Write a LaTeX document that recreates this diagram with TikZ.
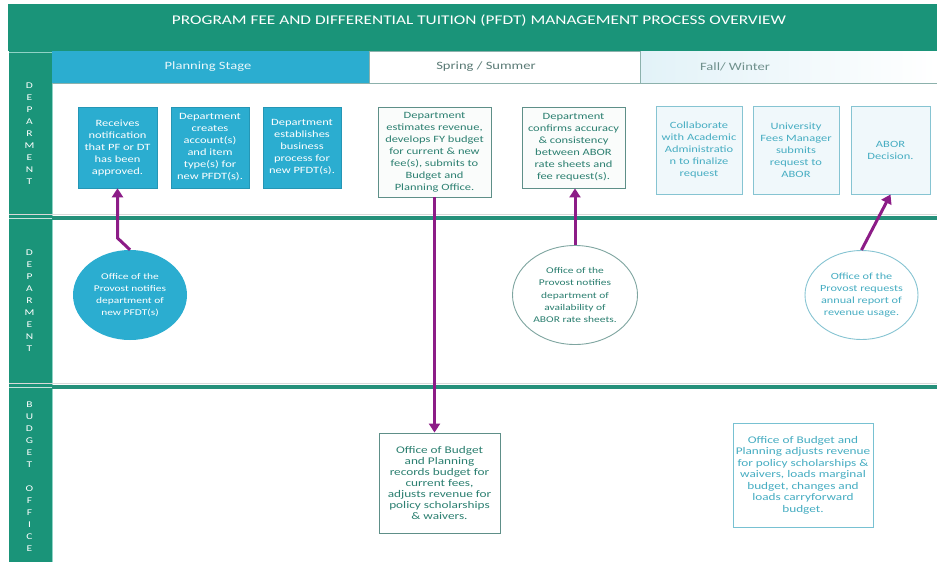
\documentclass[tikz,border=0pt]{standalone}
\usepackage{fontspec}
\setmainfont[FakeStretch=1.3]{Carlito}
\usetikzlibrary{shapes.geometric,arrows.meta}
\definecolor{tealA}{HTML}{1A9479}
\definecolor{tealLine}{HTML}{25907A}
\definecolor{tealLight}{HTML}{8FD3C6}
\definecolor{cyanA}{HTML}{2BADD0}
\definecolor{cyanB}{HTML}{2596B5}
\definecolor{sprText}{HTML}{2B7F70}
\definecolor{sprDraw}{HTML}{5E8F88}
\definecolor{sprFill}{HTML}{FAFCFB}
\definecolor{fallText}{HTML}{46ADC2}
\definecolor{fallDraw}{HTML}{86C4D2}
\definecolor{fallFill}{HTML}{F0F8FB}
\definecolor{fallHdr}{HTML}{E2F2F8}
\definecolor{hdrLine}{HTML}{8CB1AC}
\definecolor{hdrText}{HTML}{5A7A75}
\definecolor{hdrText2}{HTML}{6F908C}
\definecolor{purp}{HTML}{8C1C87}
\tikzset{
  txt/.style={align=center, inner sep=0pt, font=\fontsize{9.6}{12}\selectfont},
  planbox/.style={txt, fill=cyanA, draw=cyanB, line width=0.6pt, text=white},
  sprbox/.style={txt, fill=sprFill, draw=sprDraw, line width=0.9pt, text=sprText},
  fallbox/.style={txt, fill=fallFill, draw=fallDraw, line width=0.9pt, text=fallText},
  oval/.style={ellipse, inner sep=0pt},
  arr/.style={draw=purp, line width=3pt, -{Triangle[width=11pt,length=9pt]}},
  lanelbl/.style={align=center, text=white, inner sep=0pt, font=\fontsize{8.8}{12}\selectfont},
  hdr/.style={inner sep=0pt, font=\fontsize{11.2}{13}\selectfont},
}
\begin{document}
\begin{tikzpicture}[x=1pt,y=-1pt]
\useasboundingbox (0,0) rectangle (937,562);
\fill[white] (0,0) rectangle (937,562);
% title bar
\fill[tealA] (8,4) rectangle (937,51);
\node[text=white, inner sep=0pt, font=\fontsize{13.3}{15}\selectfont] (title) at (479,21) {PROGRAM FEE AND DIFFERENTIAL TUITION (PFDT) MANAGEMENT PROCESS OVERVIEW};
% left column
\fill[tealA] (9,51) rectangle (52,562);
\draw[tealLight, line width=0.8pt] (9,52) -- (52,52) -- (52,562);
% header row
\fill[cyanA] (52,51) rectangle (369,83);
\draw[hdrLine, fill=white, line width=0.7pt] (369,51) rectangle (640,83);
\shade[left color=fallHdr, right color=white] (640,51) rectangle (937,83);
\draw[hdrLine, line width=0.7pt] (640,51) -- (640,83);
\draw[hdrLine, line width=0.9pt] (52,83) -- (937,83);
\node[hdr, text=white!90!cyanA] (h1) at (208,67) {Planning Stage};
\node[hdr, text=hdrText] (h2) at (486,67) {Spring / Summer};
\node[hdr, text=hdrText2] (h3) at (735,67) {Fall/ Winter};
% lane separators
\draw[black!15, line width=0.8pt] (9,214.5) -- (937,214.5);
\draw[tealLine, line width=3.5pt] (52,218) -- (937,218);
\draw[black!15, line width=0.8pt] (9,383.5) -- (937,383.5);
\draw[tealLine, line width=3.5pt] (52,387) -- (937,387);
\draw[white!75!tealA, line width=1.2pt] (9,218.5) -- (52,218.5);
\draw[white!75!tealA, line width=1.2pt] (9,387.5) -- (52,387.5);
% lane labels
\node[lanelbl] (l1) at (29.5,134) {D\\E\\P\\A\\R\\M\\E\\N\\T};
\node[lanelbl] (l2) at (29.5,301) {D\\E\\P\\A\\R\\M\\E\\N\\T};
\node[lanelbl] (l3) at (29.5,477) {B\\U\\D\\G\\E\\T\\~\\O\\F\\F\\I\\C\\E};
% lane 1 boxes
\node[planbox, minimum width=79pt, minimum height=81pt] (recv) at (117.5,147.5) {Receives\\notification\\that PF or DT\\has been\\approved.};
\node[planbox, minimum width=78pt, minimum height=81pt] (create) at (210,147.5) {Department\\creates\\account(s)\\and item\\type(s) for\\new PFDT(s).};
\node[planbox, minimum width=78pt, minimum height=81pt] (estab) at (302,147.5) {Department\\establishes\\business\\process for\\new PFDT(s).};
\node[sprbox, minimum width=113pt, minimum height=90pt] (estim) at (434.5,152) {Department\\estimates revenue,\\develops FY budget\\for current \& new\\fee(s), submits to\\Budget and\\Planning Office.};
\node[sprbox, minimum width=103pt, minimum height=81pt] (confirm) at (573.5,147.5) {Department\\confirms accuracy\\\& consistency\\between ABOR\\rate sheets and\\fee request(s).};
\node[fallbox, minimum width=86pt, minimum height=88pt] (collab) at (699,150) {Collaborate\\with Academic\\Administratio\\n to finalize\\request};
\node[fallbox, minimum width=86pt, minimum height=88pt] (submit) at (796,150) {University\\Fees Manager\\submits\\request to\\ABOR};
\node[fallbox, minimum width=79pt, minimum height=88pt] (abor) at (890.5,150) {ABOR\\Decision.};
% lane 2 ovals
\node[oval, fill=cyanA, minimum width=114pt, minimum height=90pt] (c1) at (130,295) {};
\node[txt, text=white, font=\fontsize{8.8}{12}\selectfont] (c1t) at (c1.center) {Office of the\\Provost notifies\\department of\\new PFDT(s)};
\node[oval, fill=white, draw=sprDraw!80!white, line width=0.9pt, minimum width=125pt, minimum height=99pt] (c2) at (575,295) {};
\node[txt, text=sprText, font=\fontsize{8.8}{12.2}\selectfont] (c2t) at (c2.center) {Office of the\\Provost notifies\\department of\\availability of\\ABOR rate sheets.};
\node[oval, fill=white, draw=fallDraw, line width=0.9pt, minimum width=113pt, minimum height=89pt] (c3) at (861.5,295) {};
\node[txt, text=fallText, font=\fontsize{9.4}{11.8}\selectfont] (c3t) at (c3.center) {Office of the\\Provost requests\\annual report of\\revenue usage.};
% lane 3 boxes
\node[sprbox, fill=white, font=\fontsize{10.2}{11}\selectfont, minimum width=121pt, minimum height=100pt] (recI) at (439.5,483) {Office of Budget\\and Planning\\records budget for\\current fees,\\adjusts revenue for\\policy scholarships\\\& waivers.};
\node[fallbox, fill=white, draw=fallDraw!85!cyanA, font=\fontsize{10.2}{11.5}\selectfont, minimum width=140pt, minimum height=104pt] (recJ) at (803,475) {Office of Budget and\\Planning adjusts revenue\\for policy scholarships \&\\waivers, loads marginal\\budget, changes and\\loads carryforward\\budget.};
% arrows
\draw[arr] (c1.north) -- (recv.south |- 0,238) -- (recv.south);
\draw[arr] (estim.south) -- (estim.south |- recI.north);
\draw[arr] (c2.north) -- (c2.north |- confirm.south);
\draw[arr] (c3.north) -- (abor.south);
\end{tikzpicture}
\end{document}
